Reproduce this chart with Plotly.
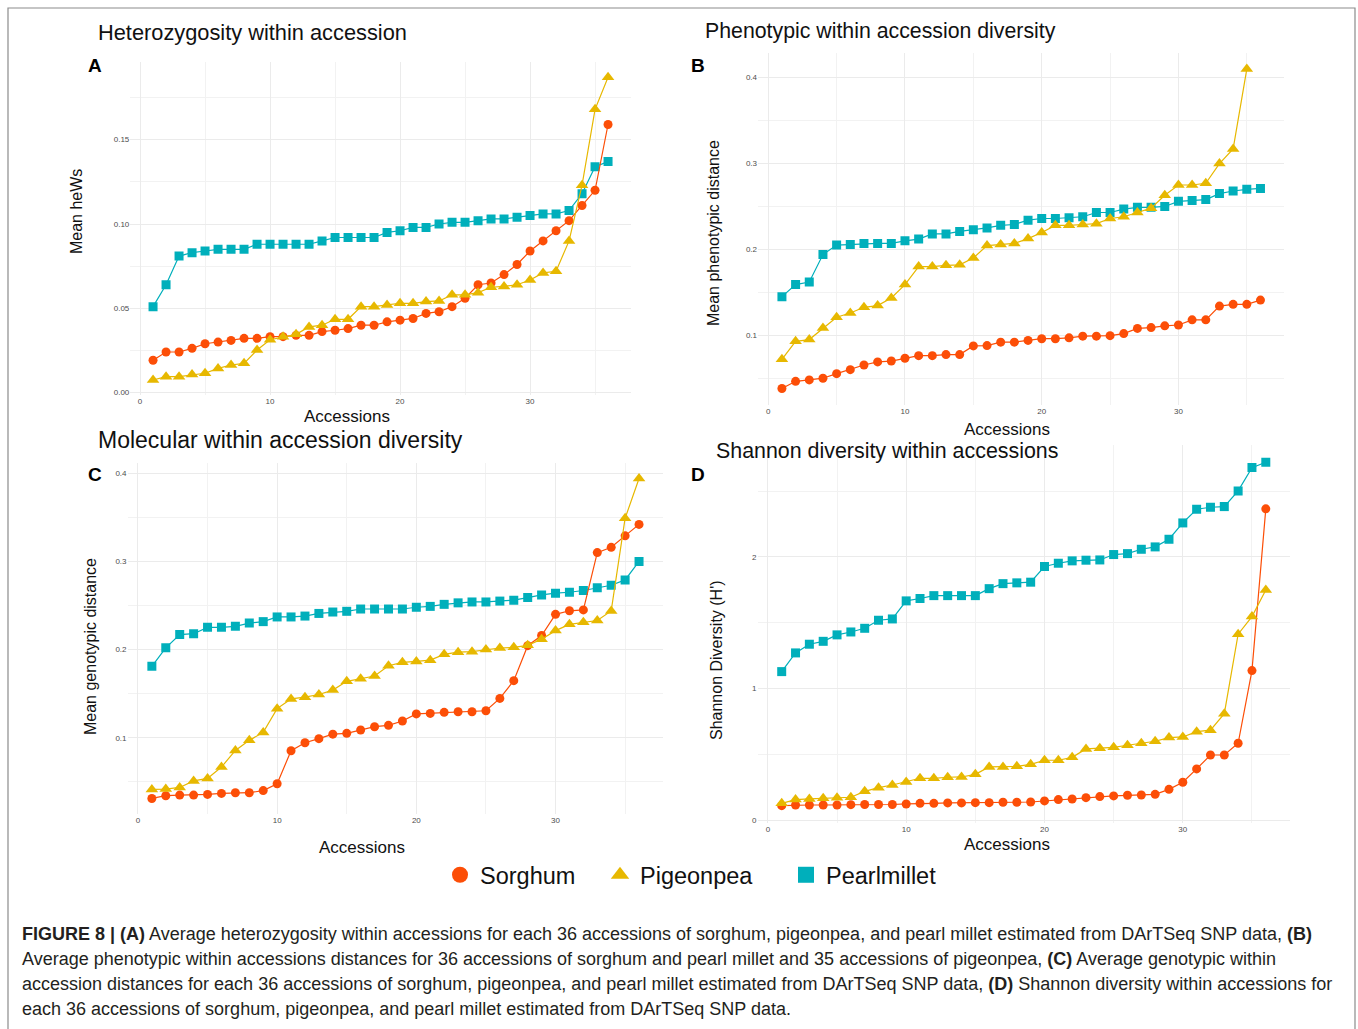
import plotly.graph_objects as go

W, H = 1358, 1029
FONT = "Liberation Sans, Arial, Helvetica, sans-serif"

accessions = list(range(1, 37))
accessions_35 = list(range(1, 36))

# Panel A: heterozygosity
a_sorghum = [0.0192, 0.0241, 0.0241, 0.0263, 0.029, 0.030, 0.031, 0.0322, 0.0322, 0.0332,
             0.0332, 0.034, 0.034, 0.0362, 0.037, 0.038, 0.040, 0.040, 0.042, 0.043,
             0.044, 0.047, 0.048, 0.051, 0.056, 0.064, 0.065, 0.070, 0.076, 0.084,
             0.090, 0.096, 0.102, 0.111, 0.120, 0.159]
a_pigeonpea = [0.0075, 0.0095, 0.0095, 0.0107, 0.0115, 0.0144, 0.0164, 0.0174, 0.0253, 0.0314,
               0.0332, 0.0346, 0.039, 0.040, 0.0435, 0.0435, 0.051, 0.051, 0.052, 0.053,
               0.053, 0.054, 0.0544, 0.058, 0.058, 0.0593, 0.0625, 0.063, 0.064, 0.0668,
               0.071, 0.072, 0.090, 0.123, 0.168, 0.187]
a_pearlmillet = [0.051, 0.064, 0.081, 0.083, 0.084, 0.085, 0.085, 0.085, 0.088, 0.088,
                 0.088, 0.088, 0.088, 0.090, 0.092, 0.092, 0.092, 0.092, 0.095, 0.096,
                 0.098, 0.098, 0.100, 0.101, 0.101, 0.102, 0.103, 0.103, 0.104, 0.105,
                 0.106, 0.106, 0.108, 0.118, 0.134, 0.137]

# Panel B: phenotypic distance
b_sorghum = [0.038, 0.0464, 0.048, 0.050, 0.0553, 0.060, 0.0654, 0.069, 0.070, 0.0732,
             0.0763, 0.0763, 0.0775, 0.0775, 0.0876, 0.088, 0.092, 0.092, 0.094, 0.096,
             0.096, 0.097, 0.099, 0.099, 0.0996, 0.102, 0.108, 0.109, 0.111, 0.112,
             0.118, 0.118, 0.134, 0.136, 0.136, 0.141]
b_pigeonpea = [0.072, 0.093, 0.095, 0.1085, 0.121, 0.126, 0.1326, 0.1346, 0.1435, 0.159,
               0.180, 0.180, 0.1815, 0.182, 0.190, 0.2045, 0.2056, 0.207, 0.2126, 0.2196,
               0.228, 0.228, 0.229, 0.230, 0.236, 0.238, 0.243, 0.248, 0.263, 0.275,
               0.275, 0.277, 0.300, 0.317, 0.410]
b_pearlmillet = [0.145, 0.159, 0.162, 0.194, 0.205, 0.2056, 0.207, 0.207, 0.207, 0.210,
                 0.212, 0.218, 0.218, 0.221, 0.223, 0.225, 0.228, 0.229, 0.234, 0.236,
                 0.236, 0.237, 0.238, 0.243, 0.243, 0.247, 0.249, 0.249, 0.250, 0.256,
                 0.257, 0.258, 0.265, 0.268, 0.270, 0.271]

# Panel C: genotypic distance
c_sorghum = [0.0311, 0.0342, 0.0349, 0.0349, 0.0357, 0.0368, 0.0376, 0.0376, 0.040, 0.0478,
             0.0852, 0.0943, 0.0989, 0.104, 0.105, 0.1087, 0.1125, 0.114, 0.119, 0.127,
             0.1276, 0.1288, 0.1295, 0.1295, 0.1306, 0.1446, 0.1647, 0.2044, 0.216, 0.240,
             0.244, 0.245, 0.310, 0.316, 0.329, 0.342]
c_pigeonpea = [0.0413, 0.0417, 0.0436, 0.051, 0.0538, 0.0667, 0.0856, 0.097, 0.106, 0.133,
               0.144, 0.146, 0.149, 0.154, 0.164, 0.167, 0.170, 0.1817, 0.1855, 0.1866,
               0.188, 0.1946, 0.197, 0.1976, 0.200, 0.2018, 0.2025, 0.2048, 0.2116, 0.2215,
               0.2286, 0.231, 0.233, 0.2438, 0.349, 0.394]
c_pearlmillet = [0.181, 0.202, 0.217, 0.218, 0.2252, 0.2252, 0.2264, 0.230, 0.2317, 0.237,
                 0.237, 0.238, 0.241, 0.2426, 0.2434, 0.246, 0.246, 0.246, 0.246, 0.248,
                 0.249, 0.2513, 0.253, 0.254, 0.254, 0.255, 0.256, 0.259, 0.262, 0.264,
                 0.265, 0.267, 0.270, 0.273, 0.279, 0.300]

# Panel D: Shannon diversity
d_sorghum = [0.111, 0.116, 0.116, 0.116, 0.116, 0.119, 0.120, 0.120, 0.120, 0.124,
             0.129, 0.129, 0.132, 0.132, 0.134, 0.134, 0.137, 0.137, 0.139, 0.147,
             0.157, 0.162, 0.172, 0.180, 0.185, 0.190, 0.192, 0.197, 0.235, 0.289,
             0.390, 0.496, 0.496, 0.585, 1.137, 2.365]
d_pigeonpea = [0.129, 0.157, 0.162, 0.167, 0.172, 0.175, 0.220, 0.248, 0.268, 0.291,
               0.319, 0.319, 0.327, 0.329, 0.349, 0.405, 0.405, 0.410, 0.425, 0.456,
               0.456, 0.478, 0.542, 0.547, 0.554, 0.570, 0.585, 0.600, 0.628, 0.633,
               0.673, 0.684, 0.810, 1.413, 1.547, 1.749]
d_pearlmillet = [1.129, 1.271, 1.337, 1.359, 1.408, 1.430, 1.458, 1.519, 1.529, 1.666,
                 1.684, 1.706, 1.706, 1.706, 1.706, 1.759, 1.797, 1.803, 1.808, 1.927,
                 1.952, 1.970, 1.975, 1.977, 2.018, 2.025, 2.058, 2.076, 2.134, 2.258,
                 2.362, 2.377, 2.382, 2.501, 2.678, 2.719]

series_names = ["Sorghum", "Pigeonpea", "Pearlmillet"]
colors = {"Sorghum": "#FC4E07", "Pigeonpea": "#E7B800", "Pearlmillet": "#00AFBB"}
symbols = {"Sorghum": "circle", "Pigeonpea": "triangle-up", "Pearlmillet": "square"}
msizes = {"Sorghum": 9, "Pigeonpea": 11, "Pearlmillet": 9}

panel_titles = ["Heterozygosity within accession", "Phenotypic within accession diversity",
                "Molecular within accession diversity", "Shannon diversity within accessions"]
panel_letters = ["A", "B", "C", "D"]
y_titles = ["Mean heWs", "Mean phenotypic distance", "Mean genotypic distance", "Shannon Diversity (H')"]
x_title = "Accessions"
x_ticks = [0, 10, 20, 30]
y_ticks = [[0.00, 0.05, 0.10, 0.15], [0.1, 0.2, 0.3, 0.4], [0.1, 0.2, 0.3, 0.4], [0, 1, 2]]
y_tickfmt = [".2f", ".1f", ".1f", "d"]

caption_lines = [
    "<b>FIGURE 8 | (A)</b> Average heterozygosity within accessions for each 36 accessions of sorghum, pigeonpea, and pearl millet estimated from DArTSeq SNP data, <b>(B)</b>",
    "Average phenotypic within accessions distances for 36 accessions of sorghum and pearl millet and 35 accessions of pigeonpea, <b>(C)</b> Average genotypic within",
    "accession distances for each 36 accessions of sorghum, pigeonpea, and pearl millet estimated from DArTSeq SNP data, <b>(D)</b> Shannon diversity within accessions for",
    "each 36 accessions of sorghum, pigeonpea, and pearl millet estimated from DArTSeq SNP data.",
]

panels = [
    {"x": {"Sorghum": accessions, "Pigeonpea": accessions, "Pearlmillet": accessions},
     "y": {"Sorghum": a_sorghum, "Pigeonpea": a_pigeonpea, "Pearlmillet": a_pearlmillet}},
    {"x": {"Sorghum": accessions, "Pigeonpea": accessions_35, "Pearlmillet": accessions},
     "y": {"Sorghum": b_sorghum, "Pigeonpea": b_pigeonpea, "Pearlmillet": b_pearlmillet}},
    {"x": {"Sorghum": accessions, "Pigeonpea": accessions, "Pearlmillet": accessions},
     "y": {"Sorghum": c_sorghum, "Pigeonpea": c_pigeonpea, "Pearlmillet": c_pearlmillet}},
    {"x": {"Sorghum": accessions, "Pigeonpea": accessions, "Pearlmillet": accessions},
     "y": {"Sorghum": d_sorghum, "Pigeonpea": d_pigeonpea, "Pearlmillet": d_pearlmillet}},
]

# layout geometry in pixels: (left, right, top, bottom), y range
geo = [
    (130.3, 630.8, 62.1, 395.2, [-0.0015, 0.196]),
    (758.0, 1284.4, 53.1, 404.5, [0.0194, 0.4286]),
    (127.5, 663.4, 462.7, 814.4, [0.013, 0.412]),
    (757.5, 1290.0, 445.1, 822.8, [-0.019, 2.849]),
]
title_pos = [(96, 33), (703, 31), (96, 440), (714, 451)]
title_sizes = [21.8, 21.3, 23.0, 21.4]
letter_pos = [(95, 65), (698, 65), (95, 474), (698, 474)]
ytitle_pos = [(77, 212), (714, 233), (90, 647), (716, 660)]
xtitle_pos = [(347, 416), (1007, 429), (362, 847), (1007, 844)]
legend_x = [440, 600, 786]

fig = go.Figure()
annotations = []
layout_extra = {}

def px(x):
    return x / W

def py(y):
    return 1 - y / H

for i, p in enumerate(panels):
    n = i + 1
    xa = "x" if n == 1 else f"x{n}"
    ya = "y" if n == 1 else f"y{n}"
    for name in ["Pearlmillet", "Sorghum", "Pigeonpea"]:
        fig.add_trace(go.Scatter(
            x=p["x"][name], y=p["y"][name], mode="lines+markers", name=name,
            xaxis=xa, yaxis=ya, showlegend=False,
            line=dict(color=colors[name], width=1.2),
            marker=dict(color=colors[name], symbol=symbols[name], size=msizes[name], line=dict(width=0)),
        ))
    l, r, t, b, yr = geo[i]
    axis_common = dict(showline=False, zeroline=False, ticks="", automargin=False,
                       showgrid=True, gridcolor="#EBEBEB", gridwidth=1,
                       tickfont=dict(family=FONT, size=8, color="#4D4D4D"))
    layout_extra["xaxis" if n == 1 else f"xaxis{n}"] = dict(
        domain=[px(l), px(r)], range=[-0.75, 37.75], anchor=ya,
        tickvals=x_ticks, minor=dict(tickvals=[5, 15, 25, 35], showgrid=True, gridcolor="#F2F2F2", gridwidth=0.6),
        **axis_common)
    yt = y_ticks[i]
    step = yt[1] - yt[0]
    minor_vals = [v + step / 2 for v in [yt[0] - step] + yt]
    layout_extra["yaxis" if n == 1 else f"yaxis{n}"] = dict(
        domain=[py(b), py(t)], range=yr, anchor=xa,
        tickvals=yt, tickformat=y_tickfmt[i],
        minor=dict(tickvals=minor_vals, showgrid=True, gridcolor="#F2F2F2", gridwidth=0.6),
        **axis_common)

    tx, ty = title_pos[i]
    annotations.append(dict(text=panel_titles[i], x=px(tx), y=py(ty), xref="paper", yref="paper",
                            xanchor="left", yanchor="middle", showarrow=False,
                            font=dict(family=FONT, size=title_sizes[i], color="#111111")))
    lx, ly = letter_pos[i]
    annotations.append(dict(text=f"<b>{panel_letters[i]}</b>", x=px(lx), y=py(ly), xref="paper", yref="paper",
                            xanchor="center", yanchor="middle", showarrow=False,
                            font=dict(family=FONT, size=19, color="#000000")))
    yx, yy = ytitle_pos[i]
    annotations.append(dict(text=y_titles[i], x=px(yx), y=py(yy), xref="paper", yref="paper",
                            xanchor="center", yanchor="middle", showarrow=False, textangle=-90,
                            font=dict(family=FONT, size=16, color="#111111")))
    xx, xy = xtitle_pos[i]
    annotations.append(dict(text=x_title, x=px(xx), y=py(xy), xref="paper", yref="paper",
                            xanchor="center", yanchor="middle", showarrow=False,
                            font=dict(family=FONT, size=17, color="#111111")))

# legend-only entries with large markers, each in its own legend for exact spacing
for k, name in enumerate(series_names):
    lg = "legend" if k == 0 else f"legend{k + 1}"
    fig.add_trace(go.Scatter(x=[None], y=[None], mode="markers", name=name, showlegend=True,
                             legend=lg,
                             marker=dict(color=colors[name], symbol=symbols[name], size=16)))
    layout_extra[lg] = dict(orientation="h", x=px(legend_x[k]), y=py(875), xanchor="left", yanchor="middle",
                            font=dict(family=FONT, size=23.5, color="#111111"), itemwidth=30,
                            bgcolor="rgba(0,0,0,0)")

cap_y = [934, 959, 984, 1009]
for line, cy in zip(caption_lines, cap_y):
    annotations.append(dict(text=line, x=px(20), y=py(cy), xref="paper", yref="paper",
                            xanchor="left", yanchor="middle", showarrow=False,
                            font=dict(family=FONT, size=18, color="#231F20")))

fig.update_layout(
    width=W, height=H, margin=dict(l=0, r=0, t=0, b=0),
    paper_bgcolor="white", plot_bgcolor="white",
    annotations=annotations,
    shapes=[dict(type="rect", xref="paper", yref="paper", x0=px(8), x1=px(1355), y0=py(1034), y1=py(8),
                 line=dict(color="#8C8C8C", width=1.2), fillcolor="rgba(0,0,0,0)", layer="below")],
    **layout_extra,
)

fig.write_html("out.html")
